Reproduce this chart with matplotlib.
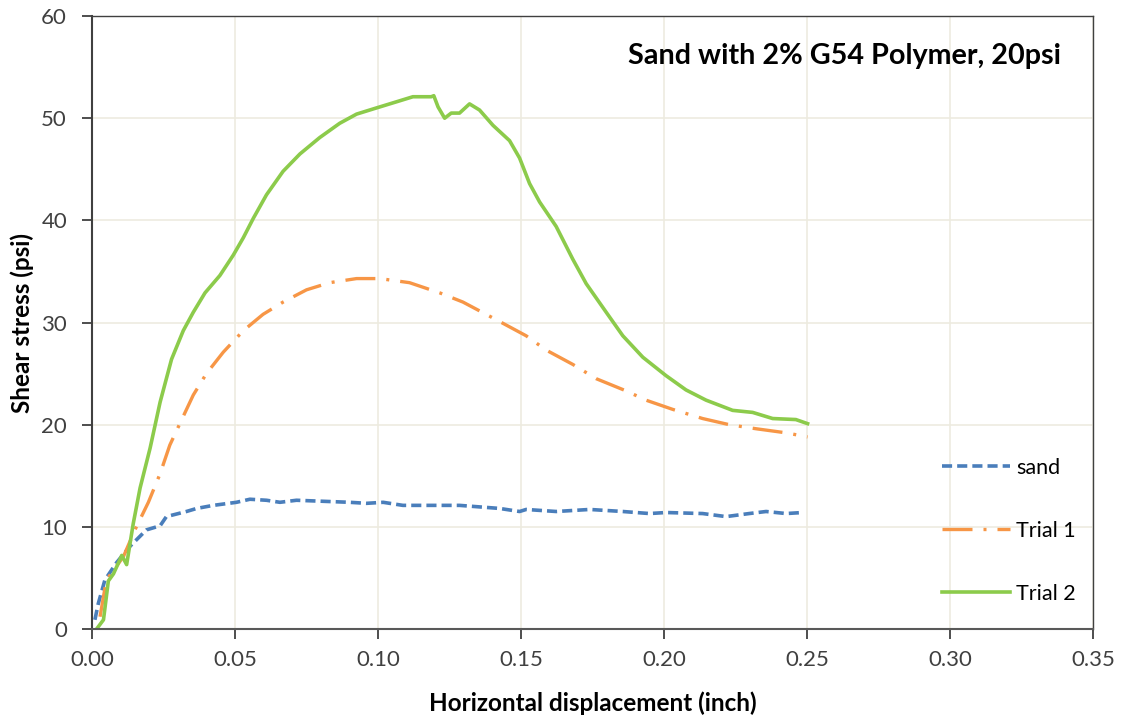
import numpy as np
import matplotlib.pyplot as plt

plt.rcParams['font.family'] = ['Lato', 'DejaVu Sans']

# sand
sand_x = [0.001, 0.0022, 0.0045, 0.0086, 0.0133, 0.019, 0.0238, 0.026, 0.033, 0.0366, 0.0424,
          0.0505, 0.0552, 0.061, 0.0657, 0.0715, 0.0808, 0.0901, 0.096, 0.1018, 0.1087, 0.1204,
          0.1285, 0.1425, 0.1495, 0.1518, 0.1623, 0.174, 0.1856, 0.1949, 0.2007, 0.2135,
          0.2217, 0.2298, 0.2357, 0.2427, 0.2485]
sand_y = [0.9, 2.5, 4.8, 6.5, 8.1, 9.7, 10.1, 11.0, 11.5, 11.8, 12.1,
          12.4, 12.7, 12.6, 12.4, 12.6, 12.5, 12.4, 12.3, 12.4, 12.1, 12.1,
          12.1, 11.8, 11.5, 11.7, 11.5, 11.7, 11.5, 11.3, 11.4, 11.3,
          11.0, 11.3, 11.5, 11.3, 11.4]

# Trial 1
t1_x = [0.0028, 0.005, 0.0069, 0.011, 0.015, 0.0197, 0.0238, 0.0272, 0.0307, 0.0354, 0.04,
        0.0459, 0.0529, 0.0598, 0.0668, 0.075, 0.0831, 0.0925, 0.1006, 0.111, 0.1216,
        0.1297, 0.1425, 0.1518, 0.1588, 0.1681, 0.1763, 0.1868, 0.1937, 0.203, 0.2135,
        0.2228, 0.2322, 0.2427, 0.2502]
t1_y = [1.2, 4.8, 5.5, 7.1, 9.7, 12.4, 15.2, 18.0, 20.1, 22.9, 25.0,
        27.1, 29.2, 30.8, 32.0, 33.2, 33.9, 34.3, 34.3, 33.9, 32.9,
        32.0, 30.1, 28.7, 27.3, 25.9, 24.5, 23.3, 22.4, 21.5, 20.6,
        20.0, 19.6, 19.2, 18.8]

# Trial 2
t2_x = [0.0016, 0.004, 0.0057, 0.0075, 0.0104, 0.0121, 0.0144, 0.0168, 0.0203, 0.0238, 0.0278,
        0.0319, 0.0354, 0.0395, 0.0447, 0.0494, 0.0529, 0.0564, 0.061, 0.0668, 0.0727,
        0.0796, 0.0866, 0.0925, 0.0994, 0.1064, 0.1122, 0.1186, 0.1195, 0.121, 0.1233,
        0.1256, 0.1285, 0.132, 0.1355, 0.1402, 0.146, 0.1495, 0.153, 0.1565, 0.1623,
        0.1681, 0.1728, 0.1798, 0.1856, 0.1926, 0.2007, 0.2077, 0.2147, 0.224, 0.231,
        0.238, 0.2461, 0.2502]
t2_y = [0.0, 0.9, 4.7, 5.4, 7.2, 6.3, 10.3, 13.8, 17.7, 22.2, 26.4,
        29.2, 31.0, 32.9, 34.6, 36.6, 38.3, 40.2, 42.5, 44.8, 46.5,
        48.1, 49.5, 50.4, 51.0, 51.6, 52.1, 52.1, 52.2, 51.1, 50.0,
        50.5, 50.5, 51.4, 50.8, 49.3, 47.8, 46.1, 43.6, 41.8, 39.4,
        36.2, 33.8, 31.0, 28.7, 26.6, 24.8, 23.4, 22.4, 21.4, 21.2,
        20.6, 20.5, 20.1]

fig = plt.figure(figsize=(11.21, 7.19), dpi=100)
ax = fig.add_axes([0.0821, 0.1252, 0.8929, 0.8525])

ax.plot(sand_x, sand_y, color='#4A7EBB', lw=2.6, ls=(0, (2.8, 1.4)), label='sand')
ax.plot(t1_x, t1_y, color='#F79646', lw=2.4, ls=(0, (9, 3.3, 0.9, 3.3)), label='Trial 1')
ax.plot(t2_x, t2_y, color='#8CCB4B', lw=2.6, label='Trial 2')

ax.set_xlim(0, 0.35)
ax.set_ylim(0, 60)
ax.set_xticks(np.arange(0, 0.351, 0.05))
ax.set_yticks(np.arange(0, 61, 10))
ax.xaxis.set_major_formatter(plt.FormatStrFormatter('%.2f'))
ax.grid(True, color='#EDEBE0', lw=1.2)
ax.set_axisbelow(True)
for s in ax.spines.values():
    s.set_color('#404040')
    s.set_linewidth(1.0)
ax.spines['left'].set_linewidth(1.5)
ax.spines['bottom'].set_linewidth(1.5)
ax.spines['bottom'].set_color('#595959')
ax.tick_params(direction='out', length=7, width=1.3, color='#404040',
               labelsize=16, labelcolor='#404040')
ax.tick_params(axis='x', pad=8)
ax.tick_params(axis='y', pad=11)

ax.set_xlabel('Horizontal displacement (inch)', fontsize=17.5, fontweight='bold', va='center')
ax.set_ylabel('Shear stress (psi)', fontsize=17.5, fontweight='bold', va='center', ha='center')
ax.xaxis.set_label_coords(0.5, -0.1207)
ax.yaxis.set_label_coords(-0.07, 0.5)

ax.text(0.968, 0.935, 'Sand with 2% G54 Polymer, 20psi', transform=ax.transAxes,
        ha='right', va='center', fontsize=20.7, fontweight='bold')

ax.legend(loc='center left', bbox_to_anchor=(0.83, 0.16), frameon=False,
          fontsize=15.5, labelspacing=2.0, handlelength=3.16, handletextpad=0.28)

fig.savefig('out.png', dpi=100)
